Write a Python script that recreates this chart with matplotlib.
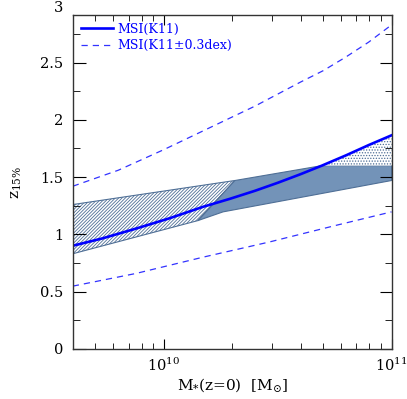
import numpy as np
import matplotlib
matplotlib.use("Agg")
import matplotlib.pyplot as plt

plt.rcParams['font.family'] = ['DejaVu Serif']
plt.rcParams['hatch.linewidth'] = 0.6
plt.rcParams['mathtext.fontset'] = 'dejavuserif'

# log10 stellar mass grids and redshift values
logm_msi = [9.6, 9.73, 9.878, 10.025, 10.172, 10.29, 10.4, 10.5, 10.6, 10.694, 10.8, 10.9, 11.0]
z_msi = [0.90, 0.964, 1.05, 1.14, 1.24, 1.31, 1.38, 1.45, 1.525, 1.60, 1.69, 1.78, 1.865]

logm_up = [9.6, 9.8, 10.0, 10.2, 10.4, 10.6, 10.7, 10.8, 10.9, 11.0]
z_up = [1.42, 1.56, 1.74, 1.93, 2.12, 2.33, 2.43, 2.55, 2.68, 2.83]

logm_lo = [9.6, 9.878, 10.172, 10.466, 10.76, 11.0]
z_lo = [0.547, 0.658, 0.80, 0.934, 1.08, 1.196]

# hatched region (low-mass part of the band)
hatch_logm = [9.6, 10.312, 10.15, 9.6]
hatch_z = [1.26, 1.47, 1.12, 0.83]

# filled region
fill_logm = [10.312, 10.694, 11.0, 11.0, 10.26, 10.15]
fill_z = [1.47, 1.60, 1.60, 1.47, 1.196, 1.12]

# dotted region between band top and MSI curve
dot_logm = [10.694, 10.8, 10.9, 11.0, 11.0]
dot_z = [1.60, 1.69, 1.78, 1.865, 1.60]

fig = plt.figure(figsize=(4.07, 3.99), dpi=100)
ax = fig.add_axes([0.180, 0.126, 0.782, 0.836])

band_col = '#7393b8'
edge_col = '#4f6f96'

ax.fill(10**np.array(hatch_logm), hatch_z, facecolor='white', edgecolor=edge_col,
        hatch='//////////', lw=0.8)
ax.fill(10**np.array(fill_logm), fill_z, facecolor=band_col, edgecolor=edge_col, lw=0.8)
ax.fill(10**np.array(dot_logm), dot_z, facecolor='white', edgecolor=edge_col,
        hatch='......', lw=0)

ax.plot(10**np.array(logm_msi), z_msi, color='#0000ff', lw=1.9, label='MSI(K11)')
ax.plot(10**np.array(logm_up), z_up, color='#3333ff', lw=0.9, ls=(0, (5, 4)),
        label='MSI(K11\u00b10.3dex)')
ax.plot(10**np.array(logm_lo), z_lo, color='#3333ff', lw=0.9, ls=(0, (5, 4)))

ax.set_xscale('log')
ax.set_xlim(4e9, 1e11)
ax.set_ylim(0, 2.915)
ax.set_yticks([0, 0.5, 1, 1.5, 2, 2.5])
ax.set_yticklabels(['0', '0.5', '1', '1.5', '2', '2.5'])
ax.set_yticks(np.arange(0, 2.9, 0.25), minor=True)
ax.text(-0.03, 2.975, '3', transform=ax.get_yaxis_transform(), ha='right', va='center',
        fontsize=10.5, clip_on=False)

ax.tick_params(which='both', direction='in', top=True, right=True, labelsize=10.5)
ax.tick_params(axis='y', which='major', length=9, pad=7)
ax.tick_params(axis='y', which='minor', length=5)
ax.tick_params(axis='x', which='major', length=7, pad=6)
ax.tick_params(axis='x', which='minor', length=4)
for s in ax.spines.values():
    s.set_linewidth(1.0)
    s.set_color('#333333')

ax.set_xlabel(r'M$_{*}$(z=0)  [M$_{\odot}$]', fontsize=11, labelpad=1)
ax.set_ylabel(r'z$_{15\%}$', fontsize=11, labelpad=12)

leg = ax.legend(loc='upper left', frameon=False, fontsize=9, handlelength=2.6,
                handletextpad=0.3, labelspacing=0.3, borderaxespad=0.2,
                labelcolor='#0000ff')

fig.savefig('out.png', dpi=100)
